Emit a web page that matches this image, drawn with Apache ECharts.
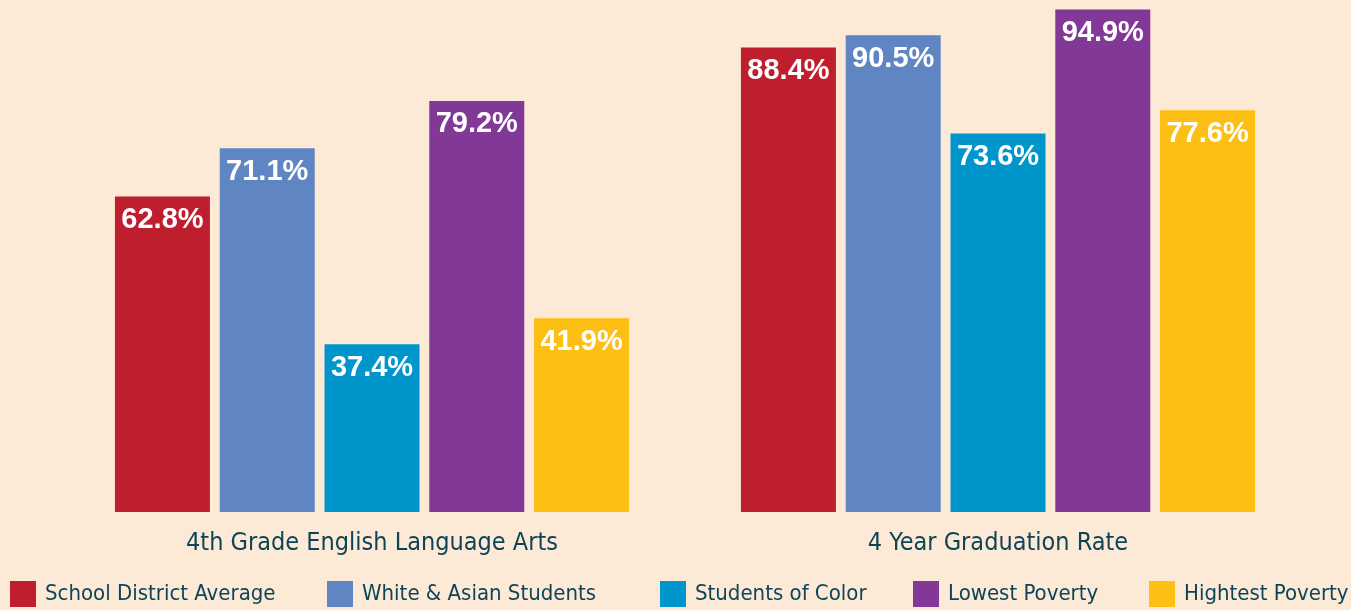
<!DOCTYPE html>
<html>
<head>
<meta charset="utf-8">
<script src="https://cdn.jsdelivr.net/npm/echarts@6/dist/echarts.min.js"></script>
<style>
  html, body { margin: 0; padding: 0; background: #FCEAD6; }
  #chart { width: 1351px; height: 610px; }
</style>
</head>
<body>
<div id="chart"></div>
<script>
const categories = ['4th Grade English Language Arts', '4 Year Graduation Rate'];
const seriesNames = ['School District Average', 'White & Asian Students', 'Students of Color', 'Lowest Poverty', 'Hightest Poverty'];
const districtAvg = [62.8, 88.4];
const whiteAsian = [71.1, 90.5];
const studentsOfColor = [37.4, 73.6];
const lowestPoverty = [79.2, 94.9];
const highestPoverty = [41.9, 77.6];

const seriesData = [districtAvg, whiteAsian, studentsOfColor, lowestPoverty, highestPoverty];
const colors = ['#BE1E2D', '#5F86C3', '#0096CC', '#823896', '#FDBF14'];
const legendLeft = [10, 327, 660, 913, 1149];

const textColor = '#0E4458';
const narrow = '"DejaVu Sans Condensed", "Liberation Sans Narrow", sans-serif';

let chart = echarts.init(document.getElementById('chart'));

let option = {
  backgroundColor: '#FCEAD6',
  animation: false,
  grid: { left: 59, right: 40, top: 9, bottom: 98 },
  legend: seriesNames.map((name, i) => ({
    data: [name],
    left: legendLeft[i],
    top: 581,
    padding: 0,
    itemWidth: 26,
    itemHeight: 26,
    icon: 'rect',
    textStyle: {
      color: textColor,
      fontFamily: narrow,
      fontSize: 22,
      padding: [2, 0, 0, 4]
    }
  })),
  xAxis: {
    type: 'category',
    data: categories,
    axisLine: { show: false },
    axisTick: { show: false },
    axisLabel: {
      color: textColor,
      fontFamily: narrow,
      fontSize: 25,
      margin: 19
    }
  },
  yAxis: {
    type: 'value',
    min: 8.6,
    max: 95,
    show: false,
    splitLine: { show: false }
  },
  series: seriesNames.map((name, i) => ({
    name: name,
    type: 'bar',
    data: seriesData[i],
    barWidth: 95,
    barGap: '10.3%',
    itemStyle: { color: colors[i] },
    label: {
      show: true,
      position: 'insideTop',
      distance: 9,
      color: '#fff',
      fontFamily: '"Liberation Sans", Arial, sans-serif',
      fontWeight: 'bold',
      fontSize: 29,
      formatter: p => p.value.toFixed(1) + '%'
    }
  }))
};

chart.setOption(option);
</script>
</body>
</html>
